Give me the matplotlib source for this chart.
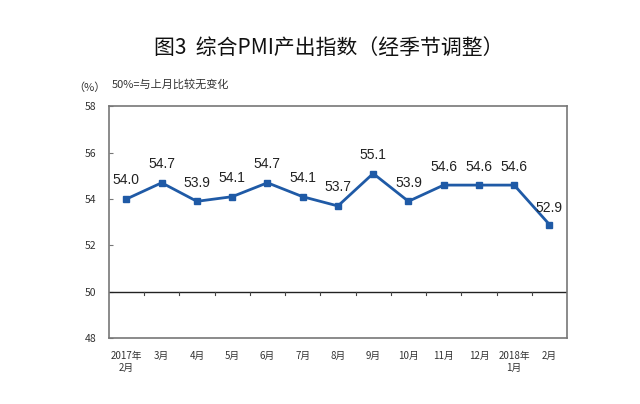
import matplotlib
matplotlib.use("Agg")
import matplotlib.pyplot as plt
import numpy as np

plt.rcParams['font.family'] = ['Noto Sans CJK SC', 'DejaVu Sans']

categories = ["2017年\n2月", "3月", "4月", "5月", "6月", "7月", "8月", "9月",
              "10月", "11月", "12月", "2018年\n1月", "2月"]
values = [54.0, 54.7, 53.9, 54.1, 54.7, 54.1, 53.7, 55.1, 53.9, 54.6, 54.6, 54.6, 52.9]
yticks = [48, 50, 52, 54, 56, 58]

fig = plt.figure(figsize=(6.4, 4.04), dpi=100)
ax = fig.add_axes([0.170, 0.163, 0.716, 0.574])

x = np.arange(len(values))
ax.plot(x, values, color='#1F5AA6', lw=2.0, marker='s', ms=4, zorder=3)
for xi, v in zip(x, values):
    off = 0.42 if xi == len(values) - 1 else 0.5
    ax.text(xi, v + off, f"{v:.1f}", ha='center', va='bottom', fontsize=10,
            family='Liberation Sans', color='#222222')

ax.set_xlim(-0.5, len(values) - 0.5)
ax.set_ylim(48, 58)
ax.set_yticks(yticks)
ax.set_yticklabels([str(t) for t in yticks], fontsize=7.5, color='#333333')
ax.tick_params(axis='y', direction='in', length=3, width=0.8, color='#777777', pad=9)
ax.set_xticks(x)
ax.set_xticklabels(categories, fontsize=7, color='#333333', linespacing=1.35)
ax.tick_params(axis='x', length=0, pad=9)

# 50 baseline with category separator ticks
ax.axhline(50, color='#222222', lw=1.0, zorder=2)
for b in np.arange(0.5, len(values) - 0.5, 1.0):
    ax.plot([b, b], [50, 49.85], color='#444444', lw=0.8, zorder=2)

for s in ax.spines.values():
    s.set_color('#777777')
    s.set_linewidth(1.2)

fig.text(0.514, 0.881, "图3  综合PMI产出指数（经季节调整）", ha='center', va='center',
         fontsize=15, color='#111111')
fig.text(0.115, 0.782, "（%）", ha='left', va='center', fontsize=8, color='#333333')
fig.text(0.175, 0.790, "50%=与上月比较无变化", ha='left', va='center', fontsize=8, color='#333333')

fig.savefig("out.png", dpi=100, facecolor='white')
